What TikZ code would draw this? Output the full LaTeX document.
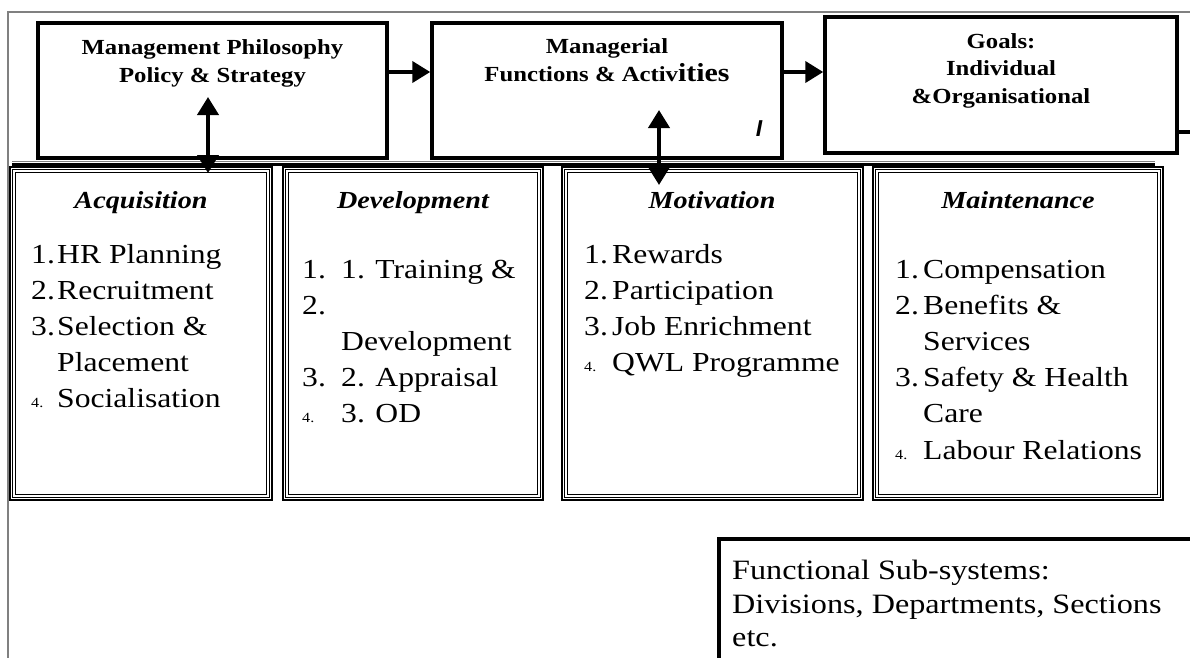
\documentclass[tikz,border=0pt]{standalone}
\usepackage{fontspec}
\setmainfont{Liberation Serif}[FakeStretch=1.15]
\setsansfont{Liberation Sans}
\usetikzlibrary{positioning,arrows.meta}

\tikzset{
  headbox/.style={draw, line width=3.5pt, inner sep=0pt, minimum height=135pt},
  headtext/.style={anchor=north, inner sep=0pt, align=center, font=\fontsize{21.5}{28.5}\selectfont\bfseries},
  colbox/.style={draw, line width=2.5pt, inner sep=0pt, minimum width=#1, minimum height=333pt},
  inframe/.style={draw, line width=1pt, double, double distance=2pt},
  coltitle/.style={anchor=base, inner sep=0pt, font=\fontsize{24.5}{30}\selectfont\bfseries\itshape},
  coltext/.style={anchor=base west, inner sep=0pt, font=\fontsize{27.5}{36.2}\selectfont},
  flow/.style={line width=4pt, -{Triangle[length=18pt,width=21pt]}},
  twoway/.style={line width=4pt, {Triangle[length=18pt,width=21pt]}-{Triangle[length=18pt,width=21pt]}},
}
\newcommand{\smallnum}[1]{{\fontsize{14}{14}\selectfont #1}}

\begin{document}
\begin{tikzpicture}[x=1pt,y=1pt]
\useasboundingbox (0,0) rectangle (1190,-657);
\clip (0,0) rectangle (1190,-657);
\draw[gray, line width=1.5pt] (8,-700) -- (8,-12) -- (1200,-12);

\node[headbox, minimum width=349pt] (mph) at (212.5,-90.5) {};
\node[headbox, minimum width=350pt] (mfa) at (607,-90.5) {};
\node[headbox, minimum width=352pt, minimum height=136pt] (goals) at (1001,-85) {};

\node[headtext] (mphtxt) at (212.5,-39) {Management Philosophy\\Policy \& Strategy};
\node[headtext] (mfatxt) at (607,-38) {Managerial\\Functions \& Activ{\fontsize{26}{28.5}\selectfont ities}};
\node[headtext, font=\fontsize{21.5}{27.5}\selectfont\bfseries] (goalstxt) at (1001,-33) {Goals:\\Individual\\\&Organisational};
\node[inner sep=0pt, font=\sffamily\bfseries\itshape\fontsize{23}{23}\selectfont] (mark) at (759,-129) {I};

\coordinate (flowrow) at (0,-72);
\draw[flow] (mph.east |- flowrow) -- (mfa.west |- flowrow);
\draw[flow] (mfa.east |- flowrow) -- (goals.west |- flowrow);
\coordinate (stubend) at (1190,-132);
\draw[line width=3.5pt] (goals.east |- stubend) -- (stubend);

\draw[gray, line width=1pt] (12,-161.5) -- (1155,-161.5);
\draw[line width=3pt] (12,-164.5) -- (1155,-164.5);

\node[colbox=262pt] (acq) at (141,-333.5) {};
\node[colbox=260pt] (dev) at (413,-333.5) {};
\node[colbox=301pt] (mot) at (712.5,-333.5) {};
\node[colbox=290pt] (mnt) at (1018,-333.5) {};
\foreach \c in {acq,dev,mot,mnt}
  \draw[inframe] ([shift={(5.5,-5.5)}]\c.north west) rectangle ([shift={(-5.5,5.5)}]\c.south east);

\node[coltitle] (acqhead) at (141,-208) {Acquisition};
\node[coltitle] (devhead) at (413,-208) {Development};
\node[coltitle] (mothead) at (712,-208) {Motivation};
\node[coltitle] (mnthead) at (1018,-208) {Maintenance};

\node[coltext] (acqlist) at (31,-263) {\begin{tabular}[t]{@{}p{26pt}@{}l@{}}
1.&HR Planning\\
2.&Recruitment\\
3.&Selection \&\\
&Placement\\
\smallnum{4.}&Socialisation
\end{tabular}};
\node[coltext] (devlist) at (302,-278) {\begin{tabular}[t]{@{}p{39pt}@{}l@{}}
1.&1. Training \&\\
2.&\\
&Development\\
3.&2. Appraisal\\
\smallnum{4.}&3. OD
\end{tabular}};
\node[coltext] (motlist) at (584,-263) {\begin{tabular}[t]{@{}p{28pt}@{}l@{}}
1.&Rewards\\
2.&Participation\\
3.&Job Enrichment\\
\smallnum{4.}&QWL Programme
\end{tabular}};
\node[coltext] (mntlist) at (895,-278) {\begin{tabular}[t]{@{}p{28pt}@{}l@{}}
1.&Compensation\\
2.&Benefits \&\\
&Services\\
3.&Safety \& Health\\
&Care\\
\smallnum{4.}&Labour Relations
\end{tabular}};

\coordinate (mphlink) at (208,-97);
\coordinate (acqlink) at (208,-173);
\draw[twoway] (mphlink) -- (acqlink);
\coordinate (mfalink) at (659,-110);
\coordinate (motlink) at (659,-185);
\draw[twoway] (mfalink) -- (motlink);

\node[draw, line width=3.5pt, anchor=north west, minimum width=520pt, minimum height=150pt] (subsys) at (717,-537) {};
\node[coltext, font=\fontsize{28}{33.5}\selectfont] (subsystxt) at (732,-579.5) {\begin{tabular}[t]{@{}l@{}}
Functional Sub-systems:\\
Divisions, Departments, Sections\\
etc.
\end{tabular}};
\end{tikzpicture}
\end{document}
